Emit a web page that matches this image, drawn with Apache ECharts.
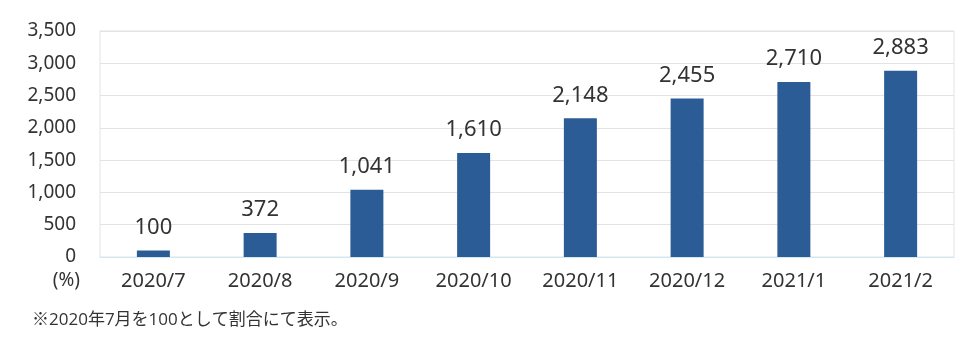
<!DOCTYPE html>
<html><head><meta charset="utf-8">
<script src="https://cdn.jsdelivr.net/npm/echarts@6/dist/echarts.min.js"></script>
<style>html,body{margin:0;padding:0;background:#fff}#c{width:974px;height:344px}</style>
</head><body><div id="c"></div>
<script>
const categories = ['2020/7','2020/8','2020/9','2020/10','2020/11','2020/12','2021/1','2021/2'];
const values = [100, 372, 1041, 1610, 2148, 2455, 2710, 2883];
const unitLabel = '(%)';
const footnote = '※2020年7月を100として割合にて表示。';
const FONT = '"Noto Sans", "Noto Sans CJK JP", sans-serif';
const NOTE_FONT = '"Open Sans", "Noto Sans CJK JP", sans-serif';
const chart = echarts.init(document.getElementById('c'));
chart.setOption({
  animation: false,
  textStyle: {fontFamily: FONT},
  grid: {left: 100, right: 20, top: 31, bottom: 87, show: true, borderColor: '#e3e3e3', borderWidth: 1},
  xAxis: {
    type: 'category', data: categories,
    axisLine: {lineStyle: {color: '#cfe9f4', width: 1}},
    axisTick: {show: false},
    axisLabel: {fontSize: 20, color: '#333', margin: 14, fontFamily: FONT}
  },
  yAxis: {
    type: 'value', min: 0, max: 3500, interval: 500,
    axisLine: {show: false}, axisTick: {show: false},
    splitLine: {lineStyle: {color: '#e3e3e3', width: 1}},
    axisLabel: {fontSize: 19, color: '#333', margin: 24, fontFamily: FONT,
      formatter: v => v.toLocaleString('en-US')}
  },
  series: [{
    type: 'bar', data: values, barWidth: 33,
    itemStyle: {color: '#2b5c96'},
    label: {show: true, position: 'top', distance: 12, fontSize: 22, color: '#333', fontFamily: FONT,
      formatter: p => p.value.toLocaleString('en-US')}
  }],
  graphic: [
    {type: 'text', right: 974 - 80, top: 271, style: {text: unitLabel, fill: '#333', font: '19px ' + FONT, textAlign: 'right'}},
    {type: 'text', left: 32, top: 312, style: {text: footnote, fill: '#333', font: '17px ' + NOTE_FONT}}
  ]
});
</script></body></html>
